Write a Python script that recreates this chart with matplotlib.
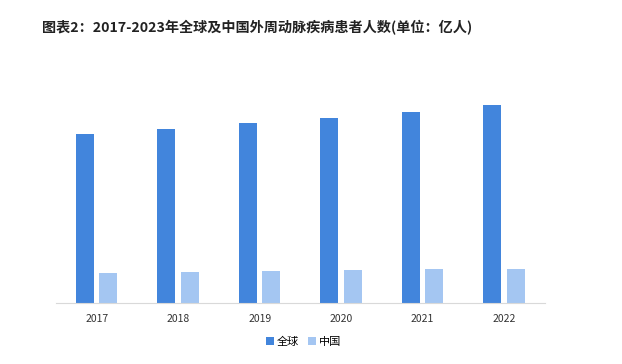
import numpy as np
import matplotlib.pyplot as plt

plt.rcParams['font.family'] = ['Noto Sans CJK SC', 'DejaVu Sans']

#%% data (单位：亿人)
years = ["2017", "2018", "2019", "2020", "2021", "2022"]
global_pad = [2.02, 2.08, 2.15, 2.21, 2.28, 2.36]
china_pad = [0.36, 0.37, 0.38, 0.39, 0.41, 0.41]

#%% plot
fig = plt.figure(figsize=(6.22, 3.64), dpi=100)
ax = fig.add_axes([0.090, 0.1676, 0.786, 0.6124])

x = np.arange(len(years))
bar_w = 0.22
ax.bar(x - 0.147, global_pad, width=bar_w, color='#4285DC', label='全球')
ax.bar(x + 0.14, china_pad, width=bar_w, color='#A4C6F2', label='中国')

ax.set_xlim(-0.5, len(years) - 0.5)
ax.set_ylim(0, 2.66)
ax.set_xticks(x)
ax.set_xticklabels(years, fontsize=7.5, color='#333333')
ax.tick_params(axis='x', length=0, pad=8)
ax.set_yticks([])
for side in ['left', 'right', 'top']:
    ax.spines[side].set_visible(False)
ax.spines['bottom'].set_color('#D9D9D9')

fig.text(0.068, 0.923, '图表2：2017-2023年全球及中国外周动脉疾病患者人数(单位：亿人)',
         fontsize=10.2, fontweight='bold', color='#222222', va='center')

fig.legend(loc='center', bbox_to_anchor=(0.488, 0.061), ncol=2, frameon=False,
           fontsize=8, handlelength=0.7, handleheight=0.7, handletextpad=0.3,
           columnspacing=0.8)

fig.savefig('out.png', dpi=100)
